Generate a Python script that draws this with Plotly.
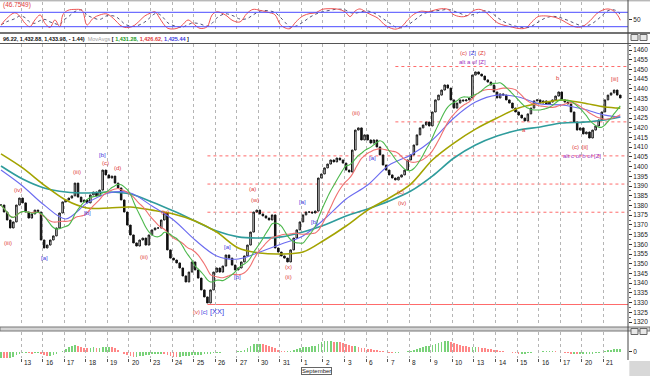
import plotly.graph_objects as go
import pandas as pd

W, H = 650, 376

# ---------------- data ----------------
closes = [
    1380.2, 1376.6, 1372.5, 1368.4, 1371.5, 1380.2, 1383.8, 1381.3, 1376.6, 1373.5,
    1375.6, 1377.6, 1376.6, 1362.2, 1358.1, 1359.6, 1362.2, 1364.3, 1368.4, 1376.1,
    1381.8, 1382.8, 1383.8, 1384.9, 1391.5, 1384.3, 1381.8, 1382.8, 1381.3, 1385.4,
    1386.9, 1384.9, 1387.9, 1398.2, 1395.7, 1394.1, 1395.1, 1391.5, 1389.0, 1382.8,
    1376.6, 1369.9, 1364.8, 1360.7, 1359.1, 1362.2, 1363.2, 1359.6, 1364.8, 1367.4,
    1368.4, 1368.4, 1372.5, 1376.1, 1357.1, 1352.9, 1351.9, 1350.4, 1347.8, 1343.7,
    1340.6, 1345.7, 1350.9, 1346.8, 1342.6, 1336.5, 1332.9, 1329.8, 1336.5, 1345.7,
    1347.8, 1345.7, 1348.8, 1354.5, 1352.9, 1349.3, 1346.8, 1347.8, 1350.9, 1354.0,
    1359.6, 1366.3, 1376.6, 1377.6, 1375.6, 1374.6, 1373.5, 1372.5, 1375.1, 1358.1,
    1356.0, 1354.0, 1352.9, 1350.9, 1357.1, 1363.2, 1367.4, 1371.5, 1375.1, 1376.6,
    1376.6, 1376.1, 1377.1, 1394.1, 1396.2, 1399.3, 1401.3, 1403.4, 1402.4, 1404.4,
    1403.4, 1401.8, 1398.2, 1397.2, 1408.5, 1418.8, 1419.9, 1413.7, 1416.3, 1413.7,
    1412.1, 1413.7, 1410.1, 1406.0, 1400.8, 1398.2, 1395.7, 1394.1, 1393.1, 1394.6,
    1395.7, 1398.2, 1403.4, 1406.0, 1411.1, 1416.3, 1419.9, 1421.4, 1422.9, 1420.9,
    1428.1, 1434.3, 1436.8, 1439.4, 1442.0, 1440.4, 1434.3, 1430.1, 1432.7, 1434.3,
    1433.8, 1434.3, 1435.3, 1447.1, 1448.7, 1447.6, 1446.6, 1444.6, 1443.5, 1442.0,
    1438.4, 1435.3, 1437.4, 1436.8, 1434.3, 1432.7, 1430.1, 1428.1, 1426.5, 1425.0,
    1423.5, 1427.1, 1430.1, 1433.8, 1434.3, 1432.7, 1433.8, 1432.2, 1433.2, 1434.3,
    1436.3, 1438.4, 1434.3, 1433.2, 1432.2, 1428.1, 1422.9, 1418.8, 1419.9, 1416.8,
    1417.8, 1414.7, 1418.8, 1420.9, 1424.0, 1428.1, 1434.3, 1436.8, 1437.9, 1439.4,
    1436.8, 1435.3,
]

ma_bars = [0, 7, 14, 21, 28, 35, 42, 49, 56, 63, 70, 77, 84, 91, 98, 105, 112, 119,
           126, 133, 140, 147, 154, 161, 168, 175, 182, 189, 196, 201]
ma_blue = [1398.2, 1390.0, 1380.2, 1373.0, 1381.3, 1386.4, 1386.4, 1379.7, 1372.5, 1362.2,
           1354.0, 1352.4, 1356.0, 1360.1, 1364.3, 1373.0, 1383.3, 1390.5, 1400.8, 1406.0,
           1413.7, 1425.0, 1433.2, 1436.8, 1435.8, 1432.2, 1431.7, 1429.6, 1426.5, 1425.5]
ma_olive = [1406.5, 1399.3, 1390.5, 1382.8, 1378.7, 1378.7, 1379.2, 1377.6, 1375.6, 1372.0,
            1366.3, 1358.1, 1355.5, 1355.0, 1356.0, 1362.2, 1369.4, 1377.6, 1383.8, 1391.0,
            1403.4, 1412.1, 1419.3, 1425.0, 1430.1, 1432.7, 1434.3, 1432.7, 1430.7, 1430.1]
ma_teal = [1400.3, 1393.6, 1389.0, 1386.9, 1386.4, 1386.9, 1385.9, 1381.8, 1377.1, 1372.0,
           1366.8, 1363.8, 1363.2, 1363.8, 1366.3, 1369.9, 1374.6, 1378.2, 1382.3, 1387.4,
           1395.1, 1404.4, 1411.1, 1415.7, 1418.8, 1420.4, 1422.4, 1422.9, 1424.0, 1425.5]

osc_bar = [0, 1.9, 4.5, 6.2, 7.8, 9.4, 11.0, 12.7, 14.3, 15.9,
           17.5, 19.1, 20.1, 21.7, 24.0, 26.3, 27.9, 29.9, 32.1, 34.4,
           37.0, 38.6, 40.2, 42.5, 44.1, 46.7, 48.4, 50.0, 51.3, 52.6,
           54.2, 57.1, 58.7, 60.7, 62.3, 64.6, 66.9, 68.5, 70.1, 72.7,
           75.3, 77.6, 79.8, 81.8, 84.1, 86.7, 88.9, 90.6, 92.2, 93.8,
           95.7, 98.0, 100.3, 102.2, 104.2, 106.8, 109.4, 111.7, 113.3, 114.9,
           116.5, 118.5, 120.4, 122.4, 124.3, 126.3, 128.2, 130.2, 132.1, 134.4,
           136.6, 138.6, 140.9, 143.1, 145.1, 146.7, 149.0, 151.2, 153.5, 155.5,
           157.4, 159.4, 161.3, 163.6, 165.9, 168.4, 170.4, 172.3, 174.3, 176.6,
           178.8, 180.8, 182.4, 184.7, 186.9, 188.9, 191.2, 193.4, 195.4, 197.0,
           198.6, 200.3, 201.0]
osc_k = [27, 55, 78, 62, 34, 20, 48, 69, 34, 17,
         48, 20, 70, 88, 92, 88, 27, 55, 69, 73,
         48, 27, 17, 20, 34, 65, 76, 82, 60, 34,
         13, 13, 25, 48, 34, 13, 20, 69, 82, 70,
         45, 40, 75, 92, 88, 80, 70, 30, 15, 12,
         40, 65, 75, 78, 92, 95, 93, 82, 62, 85,
         94, 80, 68, 55, 30, 15, 10, 22, 50, 75,
         85, 82, 90, 95, 92, 72, 62, 65, 88, 92,
         80, 55, 35, 25, 18, 12, 15, 40, 62, 65,
         62, 55, 45, 28, 18, 22, 45, 75, 90, 94,
         88, 65, 47]

hist = [
    -6, -6.5, -7, -6, -5, -3, -2, -1.5, -1, -1.5,
    -2, -1.5, -1, -2, -3.5, -4, -4, -3, -2, -0.5,
    1, 3, 5, 6, 6.5, 6, 5, 4, 3.5, 4,
    4.5, 4, 4, 4.5, 5, 5, 4.5, 3.5, 2, 0,
    -2, -3.5, -4.5, -5, -5, -4.5, -4, -3.5, -3, -2.5,
    -2.5, -2, -2, -2.5, -3.5, -4.5, -5, -5.5, -5, -4.5,
    -4.5, -4, -3.5, -3.5, -3.5, -3, -2.5, -2.5, -2, -1.5,
    -1, -1, -0.5, -0.5, -0.5, 0, 0, 0.5, 1, 2,
    4, 6, 7.5, 8, 8, 7.5, 7, 6, 5, 3.5,
    2, 1, 0.5, 0.5, 1, 2, 3, 3.5, 4.5, 5,
    5, 5.5, 5.5, 8, 10, 10.5, 10.5, 10.5, 10, 10,
    9.5, 8.5, 7.5, 6.5, 6, 6, 5, 4, 3.5, 3,
    2.5, 2, 1.5, 1, 0.5, -0.5, -1, -1.5, -1.5, -1,
    -0.5, 0, 0.5, 1, 2, 3, 4, 5, 5.5, 6,
    7, 8, 9, 10, 10.5, 10.5, 10, 9, 8, 7,
    6, 5.5, 5, 5, 5, 4.5, 4, 3.5, 3, 2.5,
    2, 1.5, 1, 0.5, 0, -0.5, -1, -1.5, -2, -2,
    -2, -1.5, -1, -0.5, 0, 0, 0.3, 0.3, 0.5, 0.5,
    0.3, 0, -0.5, -1, -1.5, -2, -2, -2.5, -2.5, -2.5,
    -2.5, -2.5, -2, -1.5, -1, -0.5, 0.5, 1.5, 2, 2.5,
    3, 3,
]

day_labels = ["12", "13", "16", "17", "18", "19", "20", "23", "24", "25", "26", "27",
              "30", "31", "1", "2", "3", "6", "7", "8", "9", "10", "13", "14", "15",
              "16", "17", "20", "21"]
month_label = "September"
month_day_index = 14

price_ticks = list(range(1320, 1461, 5))

level_prices = [1451.5, 1423.0, 1405.5, 1391.0, 1376.5, 1329.0]
level_from_bar = [128, 128, 67, 67, 67, 67]

# wave labels: bar position, price position, text, colour group
label_bar = [2.3, 5.5, 14.0, 24.7, 28.2, 33.1, 33.8, 37.7, 46.4, 53.2,
             63.6, 65.9, 70.0, 73.4, 76.9, 81.5, 82.4, 93.2, 93.2, 97.7,
             101.9, 115.2, 120.7, 129.5, 130.2, 150.0, 152.9, 156.1, 152.9, 169.7,
             180.8, 186.3, 189.6, 188.6, 199.3]
label_price = [1360.7, 1387.9, 1352.9, 1397.2, 1376.1, 1406.0, 1401.8, 1399.3, 1353.5, 1376.6,
               1325.2, 1325.2, 1325.2, 1358.6, 1343.2, 1388.5, 1382.8, 1348.3, 1343.2, 1381.8,
               1371.5, 1427.6, 1404.4, 1386.9, 1381.3, 1458.6, 1458.6, 1458.6, 1453.6, 1418.8,
               1445.6, 1410.1, 1410.1, 1405.4, 1445.1]
label_text = ["(iii)", "(iv)", "[a]", "(iii)", "[b]", "[b]", "(c)", "(d)", "(iii)", "(iv)",
              "(v)", "[c]", "[XX]", "[a]", "[b]", "(a)", "(w)", "(x)", "(ii)", "[a]",
              "[b]", "(iii)", "[a]", "(c)", "(iv)", "(c)", "[Z]", "(Z)", "alt a of [Z]", "a",
              "b", "(c)", "[ii]", "alt c of b of [Z]", "[iii]"]
label_group = ["r", "r", "b", "r", "b", "b", "r", "r", "r", "r",
               "r", "b", "B", "b", "b", "r", "r", "r", "r", "b",
               "b", "r", "b", "r", "r", "r", "b", "r", "p", "r",
               "r", "r", "r", "p", "r"]

# ---------------- derived series ----------------
n = len(closes)
bars = list(range(n))
opens = [closes[0]] + closes[:-1]
highs = [max(o, c) for o, c in zip(opens, closes)]
lows = [min(o, c) for o, c in zip(opens, closes)]
ma_green = pd.Series(closes).rolling(10, min_periods=1).mean()
ma_red = pd.Series(closes).rolling(15, min_periods=1).mean()
osc_d = pd.Series(osc_k).rolling(3, min_periods=1).mean()
hist_colors = ['#79d279' if (i == 0 or v >= hist[i - 1]) else '#ff8787'
               for i, v in enumerate(hist)]


def py(px):
    return 1 - px / H


X0, X1 = -0.3246, 203.5
XD = 628 / W
FONT = "Liberation Sans"

fig = go.Figure()

fig.add_trace(go.Candlestick(
    x=bars, open=opens, high=highs, low=lows, close=closes,
    increasing=dict(line=dict(color='#111111', width=1), fillcolor='#ffffff'),
    decreasing=dict(line=dict(color='#111111', width=1), fillcolor='#111111'),
    whiskerwidth=0, showlegend=False, hoverinfo='skip', xaxis='x', yaxis='y'))

for xs, ys, col, w in [
    (ma_bars, ma_teal, '#2f9c9c', 1.6),
    (ma_bars, ma_olive, '#a3a300', 1.6),
    (ma_bars, ma_blue, '#6b6bf0', 1.1),
]:
    fig.add_trace(go.Scatter(x=xs, y=ys, mode='lines', line=dict(color=col, width=w, shape='spline', smoothing=0.9),
                             hoverinfo='skip', showlegend=False, xaxis='x', yaxis='y'))
fig.add_trace(go.Scatter(x=bars, y=ma_red, mode='lines', line=dict(color='#f07070', width=1.1, shape='spline'),
                         hoverinfo='skip', showlegend=False, xaxis='x', yaxis='y'))
fig.add_trace(go.Scatter(x=bars, y=ma_green, mode='lines', line=dict(color='#4cb84c', width=1.1, shape='spline'),
                         hoverinfo='skip', showlegend=False, xaxis='x', yaxis='y'))

# oscillator
fig.add_trace(go.Scatter(x=osc_bar, y=osc_d, mode='lines', line=dict(color='#555577', width=1, dash='dot', shape='spline'),
                         hoverinfo='skip', showlegend=False, xaxis='x2', yaxis='y2'))
fig.add_trace(go.Scatter(x=osc_bar, y=osc_k, mode='lines', line=dict(color='#ee5555', width=1, shape='spline'),
                         hoverinfo='skip', showlegend=False, xaxis='x2', yaxis='y2'))

# histogram
fig.add_trace(go.Bar(x=bars, y=hist, marker=dict(color=hist_colors, line=dict(width=0)), width=0.55,
                     hoverinfo='skip', showlegend=False, xaxis='x3', yaxis='y3'))

grid = [7 * d - 0.5 for d in range(1, len(day_labels))]
common_x = dict(range=[X0, X1], domain=[0, XD], tickvals=grid, showticklabels=False,
                showgrid=True, gridcolor='#b5b5b5', griddash='dot', gridwidth=1,
                zeroline=False, showline=False)

shapes = []
for i, (lp, lf) in enumerate(zip(level_prices, level_from_bar)):
    shapes.append(dict(type='line', xref='x', yref='y', x0=lf, x1=X1, y0=lp, y1=lp,
                       line=dict(color='#ff6b6b', width=1, dash='solid' if i == len(level_prices) - 1 else 'dot'),
                       layer='below'))
for v in (20, 80):
    shapes.append(dict(type='line', xref='x2', yref='y2', x0=X0, x1=X1, y0=v, y1=v,
                       line=dict(color='#4b4bff', width=1)))
frame = [(0.8, '#9a9a9a', 1), (33, '#444444', 1.5), (43.5, '#555555', 1)]
for yy, col, w in frame:
    shapes.append(dict(type='line', xref='paper', yref='paper', x0=0, x1=1, y0=py(yy), y1=py(yy),
                       line=dict(color=col, width=w)))
shapes.append(dict(type='rect', xref='paper', yref='paper', x0=0, x1=1, y0=py(331), y1=py(327),
                   fillcolor='#d4d4d4', line=dict(color='#777777', width=1)))
shapes.append(dict(type='line', xref='paper', yref='paper', x0=XD, x1=XD, y0=py(360), y1=py(0),
                   line=dict(color='#444444', width=1)))
shapes.append(dict(type='rect', xref='paper', yref='paper', x0=XD + 0.002, x1=1, y0=0, y1=py(361),
                   fillcolor='#d8d8d8', line=dict(width=0)))
for yy in (33.5, 327.5):
    shapes.append(dict(type='rect', xref='paper', yref='paper', x0=631 / W, x1=638 / W,
                       y0=py(yy + 7), y1=py(yy + 1), fillcolor='#e8e8e8', line=dict(color='#666', width=1)))
    shapes.append(dict(type='rect', xref='paper', yref='paper', x0=640 / W, x1=647 / W,
                       y0=py(yy + 7), y1=py(yy + 1), fillcolor='#e8e8e8', line=dict(color='#666', width=1)))

annotations = []
colmap = {'r': '#e03a3a', 'b': '#3a3ae0', 'B': '#3a3ae0', 'p': '#a030c0'}
for lb, lp, tx, g in zip(label_bar, label_price, label_text, label_group):
    annotations.append(dict(x=lb, y=lp, xref='x', yref='y', text=tx, showarrow=False,
                            font=dict(family=FONT, size=7.5 if g == 'B' else 6, color=colmap[g])))
for d, lab in enumerate(day_labels):
    annotations.append(dict(x=7 * d - 0.5, y=py(362.5), xref='x3', yref='paper', text=lab, showarrow=False,
                            xanchor='left', yanchor='middle', xshift=1,
                            font=dict(family=FONT, size=6.5, color='#222')))
annotations.append(dict(x=7 * month_day_index - 0.5, y=py(371), xref='x3', yref='paper', text=month_label,
                        showarrow=False, xanchor='left', yanchor='middle', borderpad=0,
                        bordercolor='#666', borderwidth=1, font=dict(family=FONT, size=6, color='#222')))
annotations.append(dict(x=0.001, y=py(5), xref='paper', yref='paper', text='(46.7549)', showarrow=False,
                        xanchor='left', yanchor='middle', font=dict(family=FONT, size=6.5, color='#e03a3a')))
header = ("<b>96.22, 1,432.88, 1,433.98, - 1.44)</b>  <span style='color:#a0a0a0'>MovAvgs</span> "
          "<b>[ <span style='color:#1c9a1c'>1,431.28,</span> <span style='color:#e03a3a'>1,426.62,</span> "
          "<span style='color:#3a3ae0'>1,425.44</span> ]</b>")
annotations.append(dict(x=0.001, y=py(39), xref='paper', yref='paper', text=header, showarrow=False,
                        xanchor='left', yanchor='middle', font=dict(family=FONT, size=5.5, color='#111')))

tickfont = dict(family=FONT, size=6.5, color='#222')
fig.update_layout(
    width=W, height=H, margin=dict(l=0, r=0, t=0, b=0, autoexpand=False),
    paper_bgcolor='white', plot_bgcolor='white', showlegend=False,
    xaxis=dict(**common_x, anchor='y', rangeslider=dict(visible=False)),
    xaxis2=dict(**common_x, anchor='y2', matches='x'),
    xaxis3=dict(**common_x, anchor='y3', matches='x', ticks='outside', ticklen=3, tickcolor='#555'),
    yaxis=dict(domain=[py(326), py(44)], range=[1317.94, 1463.09], side='right', anchor='x',
               tickvals=price_ticks, ticks='outside', ticklen=3, tickcolor='#333',
               tickfont=tickfont, showgrid=False, zeroline=False, showline=False, automargin=False,
               minor=dict(ticks='outside', ticklen=2, tick0=1320, dtick=2.5, tickcolor='#666')),
    yaxis2=dict(domain=[py(32), py(2)], range=[-2.1, 122.9], side='right', anchor='x2',
                tickvals=[50], ticks='outside', ticklen=3, tickcolor='#333', automargin=False,
                tickfont=tickfont, showgrid=False, zeroline=False),
    yaxis3=dict(domain=[py(358), py(332)], range=[-6.3, 19.7], side='right', anchor='x3',
                tickvals=[0], ticks='outside', ticklen=3, tickcolor='#333', automargin=False,
                tickfont=tickfont, showgrid=False, zeroline=False),
    shapes=shapes, annotations=annotations, bargap=0,
)

fig.write_html("out.html", config={'displayModeBar': False, 'staticPlot': True},
               post_script="document.body.style.margin='0';document.body.style.padding='0';")
